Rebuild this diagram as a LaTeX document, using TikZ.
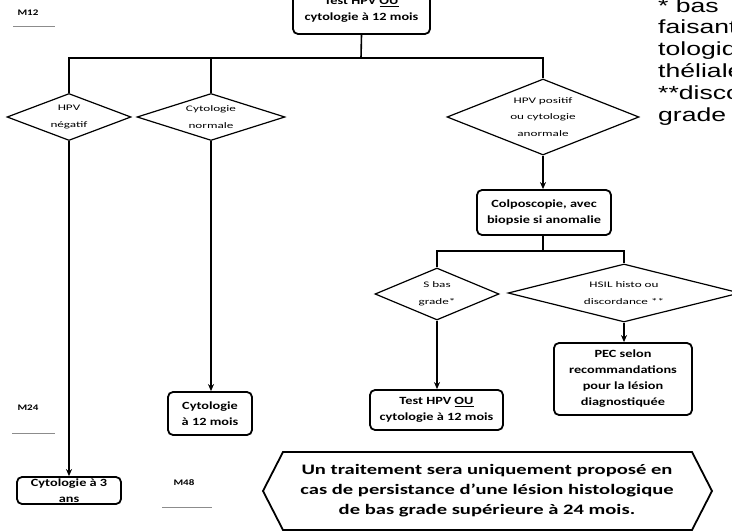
\documentclass[tikz,border=0pt]{standalone}
\usepackage{fontspec}
\setmainfont{Carlito}
\newfontfamily\boxfont{Carlito}[FakeStretch=1.3]
\newfontfamily\diafont{Carlito}[FakeStretch=1.55]
\newfontfamily\notefont{Carlito}[FakeStretch=1.42]
\newfontfamily\sidefont{Liberation Sans}[FakeStretch=1.4]
\usetikzlibrary{shapes.geometric,arrows.meta}
\tikzset{
  conn/.style={line width=1.6pt},
  arr/.style={line width=1.6pt,-{Stealth[length=7pt,width=6pt]}},
  box/.style={draw,line width=1.8pt,rounded corners=5pt,align=center,inner sep=1pt,
     font=\boxfont\fontsize{11}{16}\selectfont\bfseries},
  dia/.style={draw,shape=diamond,line width=1.2pt,inner sep=0pt},
  diatext/.style={align=center,inner sep=0pt,font=\diafont\fontsize{8.5}{16.5}\selectfont},
  mlab/.style={font=\boxfont\fontsize{8.5}{10}\selectfont\bfseries,inner sep=0pt},
  mline/.style={draw=black!45,line width=0.6pt},
  side/.style={font=\sidefont\fontsize{19}{22}\selectfont,anchor=base west,inner sep=0pt}
}
\begin{document}
\begin{tikzpicture}[x=1pt,y=-1pt]
\useasboundingbox (0,0) rectangle (732,532);
% top box
\node[box,minimum width=137pt,minimum height=48pt] (top) at (361.5,10) {Test HPV \underline{OU}\\cytologie à 12 mois};
\coordinate (j1) at (361,58);
% diamonds level 1
\node[dia,minimum width=124pt,minimum height=47pt] (d1) at (69,117) {};
\node[diatext] (d1t) at (d1.center) {HPV\\négatif};
\node[dia,minimum width=148pt,minimum height=47pt] (d2) at (211,117) {};
\node[diatext] (d2t) at (d2.center) {Cytologie\\normale};
\node[dia,minimum width=192pt,minimum height=76pt] (d3) at (543,117) {};
\node[diatext] (d3t) at (d3.center) {HPV positif\\ou cytologie\\anormale};
\draw[conn] (top.south) -- (j1);
\draw[conn] (d1.north) |- (j1) -| (d3.north);
\draw[conn] (d2.north) -- (d2.north |- j1);
% boxes
\node[box,minimum width=104pt,minimum height=27pt] (c3) at (69,490.5) {Cytologie à 3\\ans};
\node[box,minimum width=84pt,minimum height=43pt] (c12) at (210,413.5) {Cytologie\\à 12 mois};
\node[box,minimum width=134pt,minimum height=45pt] (colpo) at (544,212.5) {Colposcopie, avec\\biopsie si anomalie};
\draw[arr] (d1.south) -- (c3.north);
\draw[arr] (d2.south) -- (d2.south |- c12.north);
\draw[arr] (d3.south) -- (d3.south |- colpo.north);
% level 2
\coordinate (j2) at (543,251);
\node[dia,minimum width=124pt,minimum height=52pt] (d4) at (437,294) {};
\node[diatext] (d4t) at (d4.center) {S bas\\grade*};
\node[dia,minimum width=232pt,minimum height=58pt] (d5) at (624,293) {};
\node[diatext] (d5t) at (d5.center) {HSIL histo ou\\discordance **};
\draw[conn] (colpo.south -| j2) -- (j2);
\draw[conn] (d4.north) |- (j2) -| (d5.north);
\node[box,minimum width=133pt,minimum height=40pt] (t2) at (436.5,410) {Test HPV \underline{OU}\\cytologie à 12 mois};
\node[box,minimum width=138pt,minimum height=72pt] (pec) at (623,379) {PEC selon\\recommandations\\pour la lésion\\diagnostiquée};
\draw[arr] (d4.south) -- (d4.south |- t2.north);
\draw[arr] (d5.south) -- (d5.south |- pec.north);
% hexagon
\draw[line width=1.8pt,line join=miter] (283,452) -- (692,452) -- (712,491) -- (692,530) -- (283,530) -- (263,491) -- cycle;
\node[align=center,font=\notefont\fontsize{14.5}{20}\selectfont\bfseries] (note) at (487,491) {Un traitement sera uniquement proposé en\\cas de persistance d’une lésion histologique\\de bas grade supérieure à 24 mois.};
% month labels
\node[mlab] (m12) at (28,13) {M12};
\draw[mline] (13,26) -- (55,26);
\node[mlab] (m24) at (28,408) {M24};
\draw[mline] (12,433) -- (55,433);
\node[mlab] (m48) at (184,483) {M48};
\draw[mline] (162,507) -- (212,507);
% side text (cut at the edge)
\node[side] (s0) at (658,13) {* bas};
\node[side] (s1) at (658,34) {faisant};
\node[side] (s2) at (658,56) {tologique};
\node[side] (s3) at (658,78) {théliale};
\node[side] (s4) at (658,100) {**discordance};
\node[side] (s5) at (658,122) {grade};
\end{tikzpicture}
\end{document}
